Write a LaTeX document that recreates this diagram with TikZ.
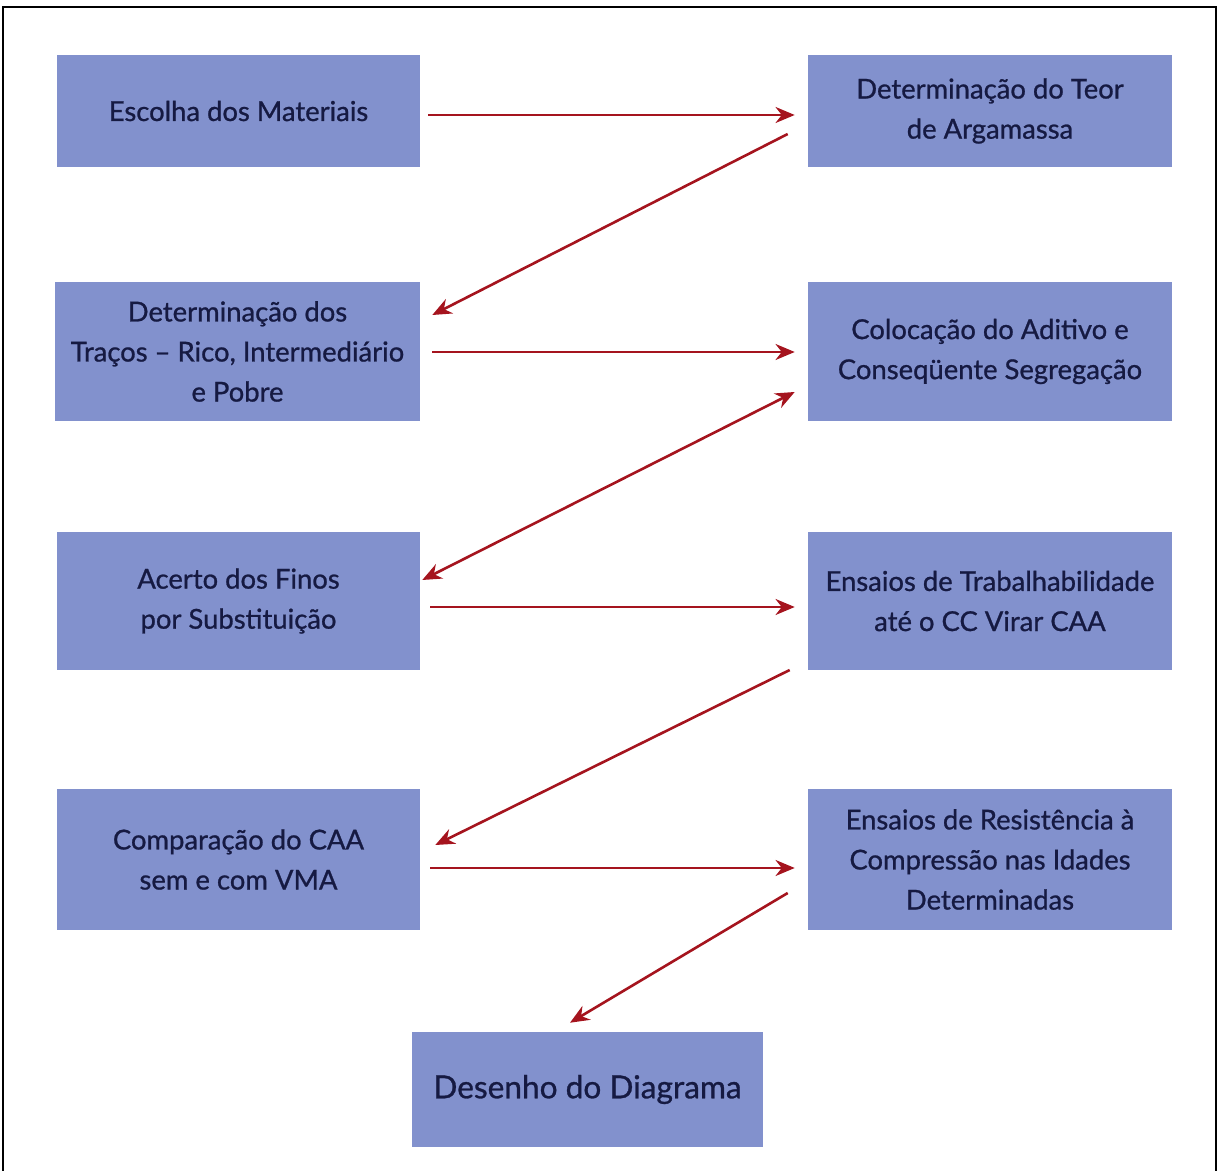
\documentclass[tikz,border=0pt]{standalone}
\usepackage{fontspec}
\setmainfont{Lato}
\newfontfamily\caixafont{Lato}[FakeBold=0.9]
\usepackage{tikz}
\usetikzlibrary{arrows.meta,calc}
\definecolor{lilas}{RGB}{130,145,205}
\definecolor{tinta}{RGB}{22,26,66}
\definecolor{vinho}{RGB}{165,20,30}
\tikzset{
  caixa/.style={rectangle, fill=lilas, align=center, inner sep=0pt, text=tinta, font=\caixafont\fontsize{19.5}{28.5}\selectfont},
  seta/.style={-{Stealth[length=4.8mm, width=4mm]}, line width=0.65mm, vinho},
  seta2/.style={{Stealth[length=4.8mm, width=4mm]}-{Stealth[length=4.8mm, width=4mm]}, line width=0.65mm, vinho},
}
\begin{document}
\begin{tikzpicture}[x=0.25mm, y=-0.25mm]
  \useasboundingbox (0,0) rectangle (1219,1171);
  \draw[line width=0.5mm] (3,1180) -- (3,7) -- (1216,7) -- (1216,1180);
  % coluna da esquerda
  \node[caixa, minimum width=90.75mm, minimum height=28mm] (esc) at (238.5,111) {Escolha dos Materiais};
  \node[caixa, minimum width=91.25mm, minimum height=34.75mm] (tra) at (237.5,351.5) {Determinação dos\\Traços – Rico, Intermediário\\e Pobre};
  \node[caixa, minimum width=90.75mm, minimum height=34.5mm] (ace) at (238.5,601) {Acerto dos Finos\\por Substituição};
  \node[caixa, minimum width=90.75mm, minimum height=35.25mm] (com) at (238.5,859.5) {Comparação do CAA\\sem e com VMA};
  % coluna da direita
  \node[caixa, minimum width=91mm, minimum height=28mm] (teo) at (990,111) {Determinação do Teor\\de Argamassa};
  \node[caixa, minimum width=91mm, minimum height=34.75mm] (adi) at (990,351.5) {Colocação do Aditivo e\\Conseqüente Segregação};
  \node[caixa, minimum width=91mm, minimum height=34.5mm] (tlb) at (990,601) {Ensaios de Trabalhabilidade\\até o CC Virar CAA};
  \node[caixa, minimum width=91mm, minimum height=35.25mm] (res) at (990,859.5) {Ensaios de Resistência à\\Compressão nas Idades\\Determinadas};
  \node[caixa, minimum width=87.75mm, minimum height=28.75mm, font=\caixafont\fontsize{22.5}{28}\selectfont] (des) at (587.5,1089.5) {Desenho do Diagrama};
  % setas
  \draw[seta] ([shift={(8,4)}]esc.east) -- ([shift={(-13,4)}]teo.west);
  \draw[seta] ([shift={(-20,23)}]teo.west) -- ([shift={(12,-36.5)}]tra.east);
  \draw[seta] ([shift={(12,0.5)}]tra.east) -- ([shift={(-13,0.5)}]adi.west);
  \draw[seta2] ([shift={(-13,40.5)}]adi.west) -- ([shift={(2,-21)}]ace.east);
  \draw[seta] ([shift={(10,6)}]ace.east) -- ([shift={(-13,6)}]tlb.west);
  \draw[seta] ([shift={(-18,69)}]tlb.west) -- ([shift={(15,-14.5)}]com.east);
  \draw[seta] ([shift={(10,8.5)}]com.east) -- ([shift={(-13,8.5)}]res.west);
  \draw[seta] ([shift={(-20,33.5)}]res.west) -- ([shift={(-17.5,-9)}]des.north);
\end{tikzpicture}
\end{document}
